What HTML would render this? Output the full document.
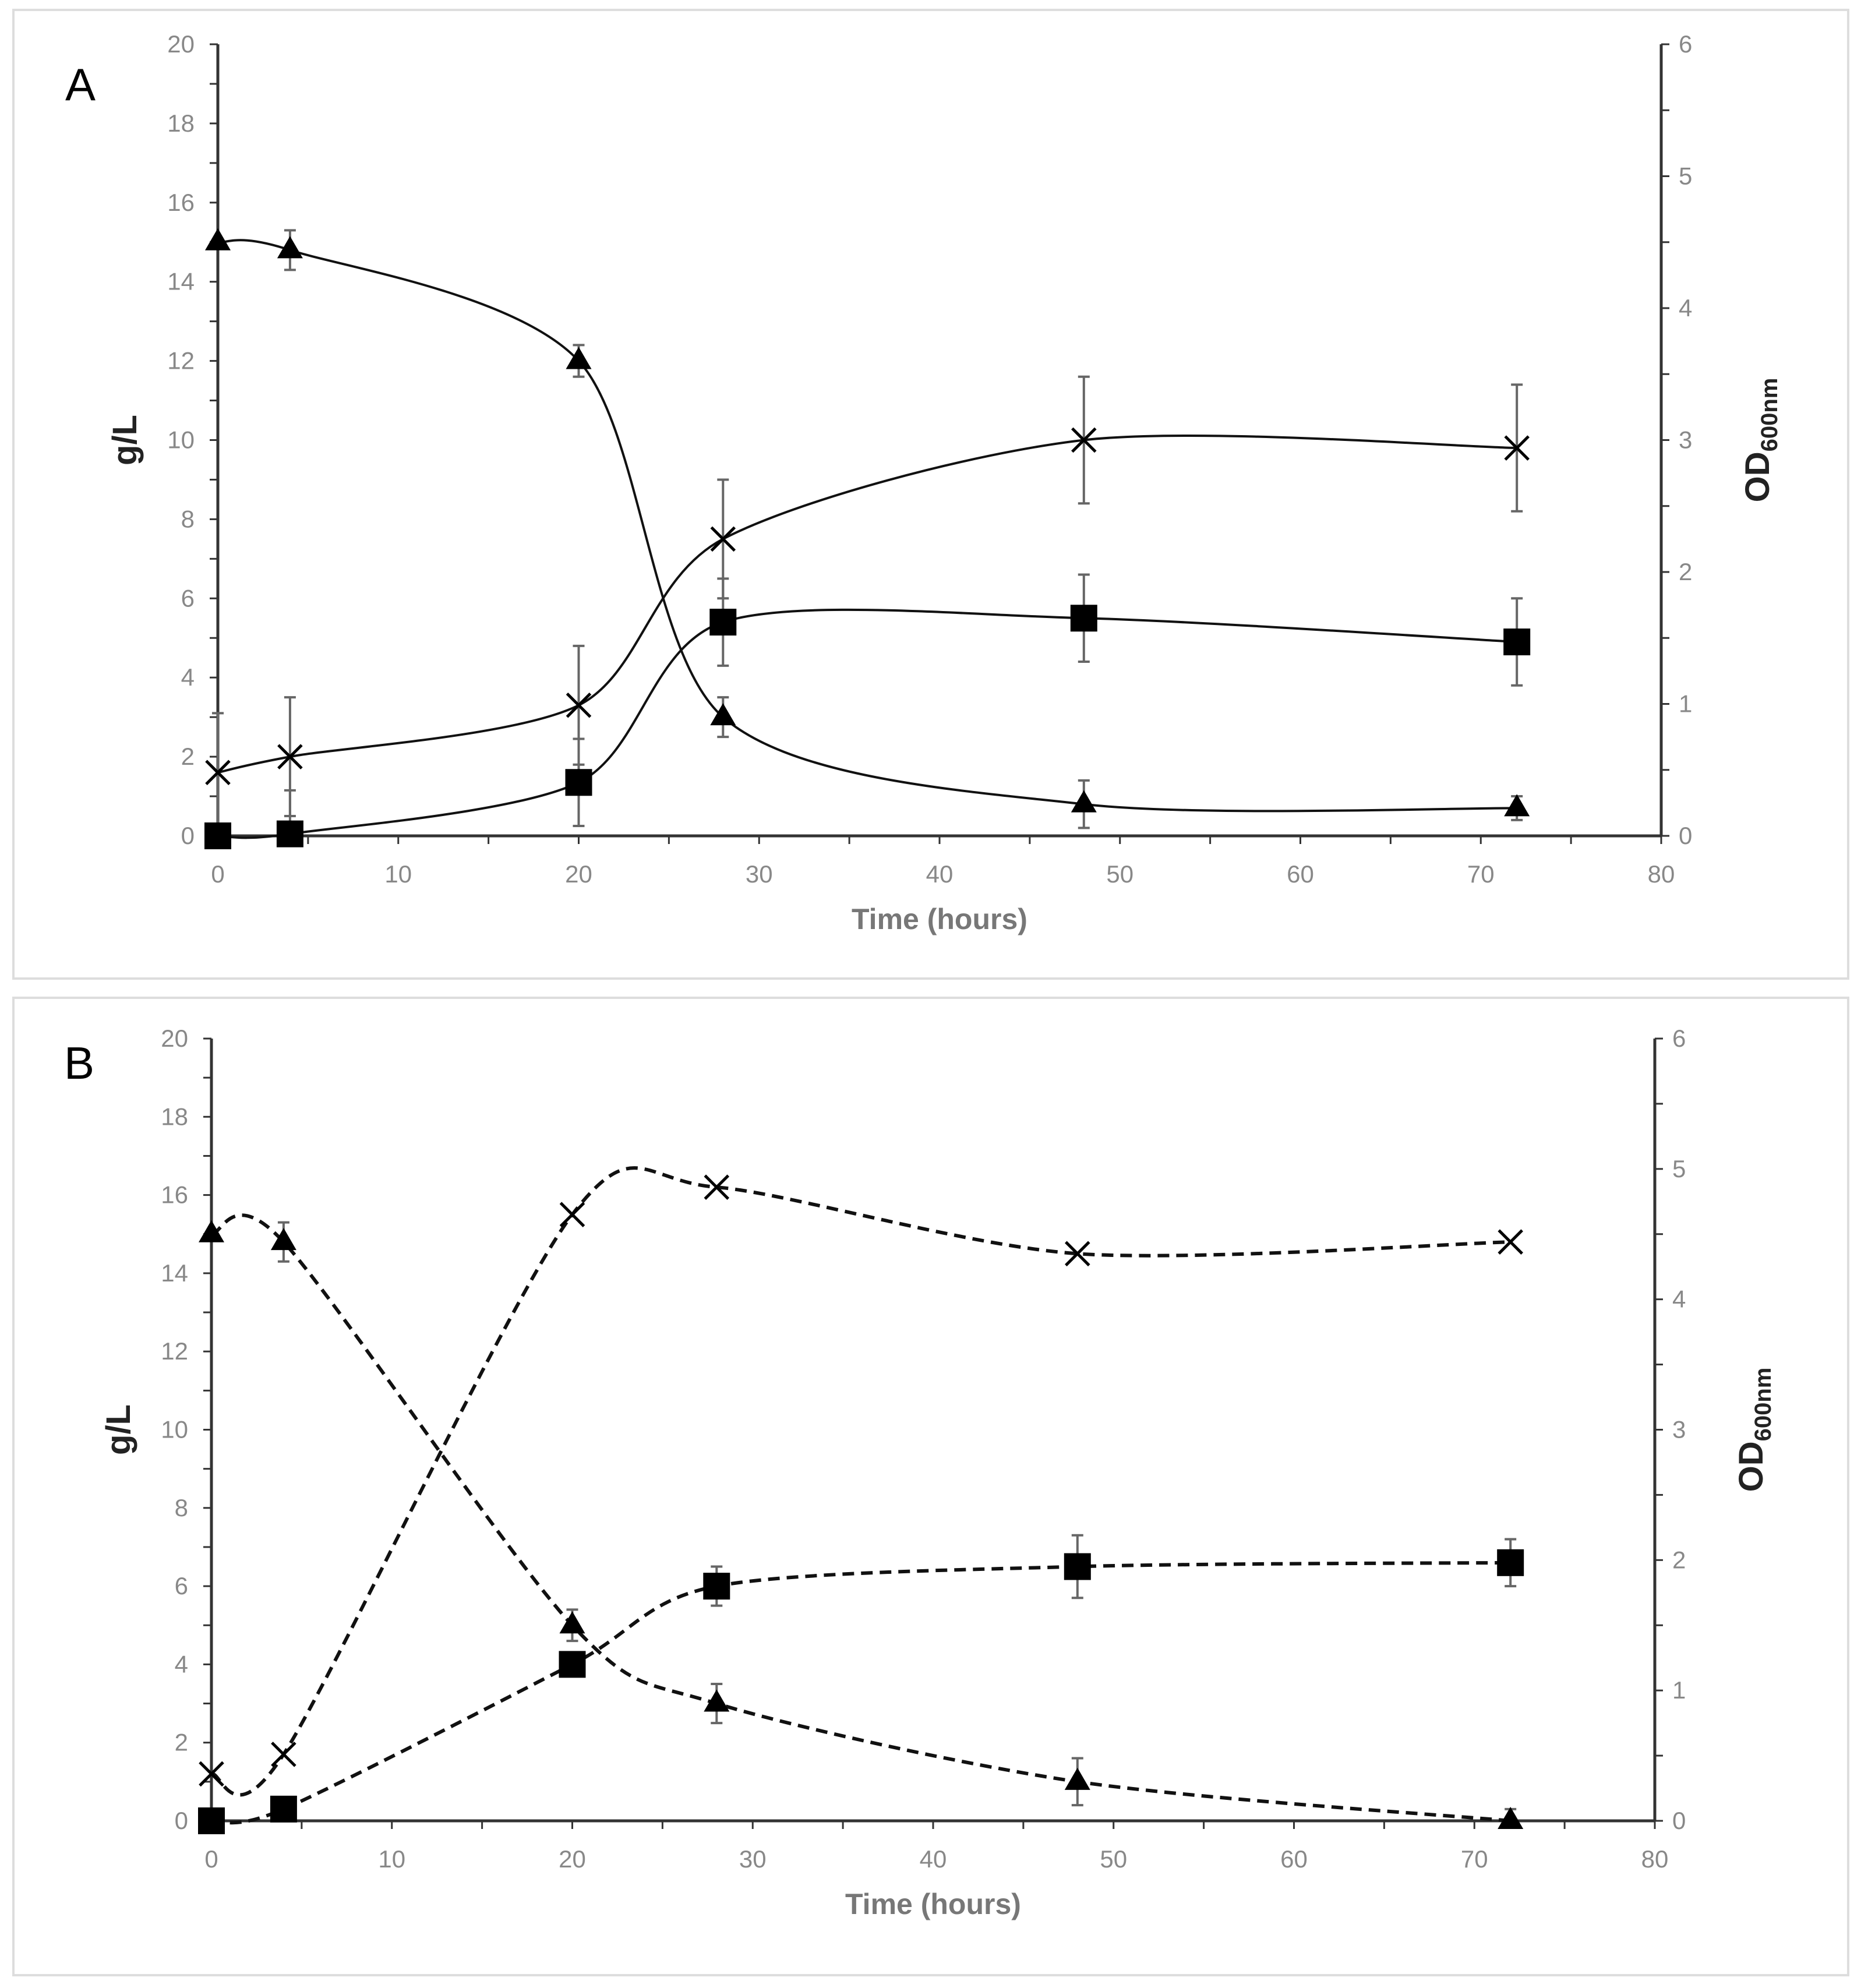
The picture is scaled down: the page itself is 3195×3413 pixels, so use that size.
<!DOCTYPE html>
<html><head><meta charset="utf-8"><style>
html,body{margin:0;padding:0;background:#fff;}
svg{display:block;}
text{font-family:"Liberation Sans",sans-serif;}
</style></head><body>
<svg id="fig" width="3195" height="3413" viewBox="0 0 3195 3413" xmlns="http://www.w3.org/2000/svg">
<rect x="0" y="0" width="3195" height="3413" fill="#fff"/>
<rect x="23" y="17" width="3150" height="1663" fill="none" stroke="#ddd" stroke-width="4"/>
<rect x="23" y="1713" width="3150" height="1678" fill="none" stroke="#ddd" stroke-width="4"/>
</svg>
<script>
const times = [0, 4, 20, 28, 48, 72];
const aTriangle = [15, 14.8, 12, 3, 0.8, 0.7];
const aTriangleErr = [0, 0.5, 0.4, 0.5, 0.6, 0.3];
const aCross = [1.6, 2.0, 3.3, 7.5, 10, 9.8];
const aCrossErr = [1.5, 1.5, 1.5, 1.5, 1.6, 1.6];
const aSquare = [0, 0.05, 1.35, 5.4, 5.5, 4.9];
const aSquareErr = [0, 1.1, 1.1, 1.1, 1.1, 1.1];
const bTriangle = [15, 14.8, 5, 3, 1, 0];
const bTriangleErr = [0, 0.5, 0.4, 0.5, 0.6, 0.3];
const bCross = [1.2, 1.7, 15.5, 16.2, 14.5, 14.8];
const bCrossErr = [0, 0, 0, 0, 0, 0];
const bSquare = [0, 0.3, 4, 6, 6.5, 6.6];
const bSquareErr = [0, 0, 0, 0.5, 0.8, 0.6];
const xTicks = [0, 10, 20, 30, 40, 50, 60, 70, 80];
const yTicks = [0, 2, 4, 6, 8, 10, 12, 14, 16, 18, 20];
const y2Ticks = [0, 1, 2, 3, 4, 5, 6];

const NS = "http://www.w3.org/2000/svg";
const svg = document.getElementById("fig");
function mk(tag, attrs, parent) {
  const e = document.createElementNS(NS, tag);
  for (const k in attrs) e.setAttribute(k, attrs[k]);
  (parent || svg).appendChild(e);
  return e;
}
function catmull(pts) {
  let d = "M" + pts[0][0] + "," + pts[0][1];
  for (let i = 0; i < pts.length - 1; i++) {
    const p0 = pts[Math.max(0, i - 1)], p1 = pts[i], p2 = pts[i + 1], p3 = pts[Math.min(pts.length - 1, i + 2)];
    const t = 7;
    const c1 = [p1[0] + (p2[0] - p0[0]) / t, p1[1] + (p2[1] - p0[1]) / t];
    const c2 = [p2[0] - (p3[0] - p1[0]) / t, p2[1] - (p3[1] - p1[1]) / t];
    d += " C" + c1[0] + "," + c1[1] + " " + c2[0] + "," + c2[1] + " " + p2[0] + "," + p2[1];
  }
  return d;
}
function panel(cfg) {
  const g = mk("g", {});
  
  
  const X = v => cfg.x0 + (cfg.x80 - cfg.x0) * v / 80;
  const Y = v => cfg.y0 - (cfg.y0 - cfg.y20) * v / 20;
  const gray = "#888";
  const ax = mk("g", {}, g);
  
  
  mk("line", {x1: X(0), y1: Y(0), x2: X(80), y2: Y(0), stroke: "#333", "stroke-width": 5}, ax);
  mk("line", {x1: X(0), y1: Y(0), x2: X(0), y2: Y(20), stroke: "#333", "stroke-width": 5}, ax);
  mk("line", {x1: X(80), y1: Y(0), x2: X(80), y2: Y(20), stroke: "#333", "stroke-width": 5}, ax);
  for (let v = 0; v <= 80; v += 5) mk("line", {x1: X(v), y1: Y(0), x2: X(v), y2: Y(0) + 14, stroke: "#333", "stroke-width": 3}, ax);
  for (let v = 0; v <= 20; v += 1) mk("line", {x1: X(0) - 14, y1: Y(v), x2: X(0), y2: Y(v), stroke: "#333", "stroke-width": 3}, ax);
  for (let v = 0; v <= 6; v += 0.5) mk("line", {x1: X(80), y1: Y(v * 20 / 6), x2: X(80) + 14, y2: Y(v * 20 / 6), stroke: "#333", "stroke-width": 3}, ax);
  xTicks.forEach(v => {
    const t = mk("text", {x: X(v), y: Y(0) + 80, "text-anchor": "middle", "font-size": 42, fill: gray}, ax);
    t.textContent = v;
    
    
  });
  yTicks.forEach(v => {
    const t = mk("text", {x: X(0) - 40, y: Y(v) + 14, "text-anchor": "end", "font-size": 42, fill: gray}, ax);
    t.textContent = v;
    
    
  });
  y2Ticks.forEach(v => {
    const t = mk("text", {x: X(80) + 30, y: Y(v * 20 / 6) + 14, "text-anchor": "start", "font-size": 42, fill: gray}, ax);
    t.textContent = v;
    
    
  });
  const xt = mk("text", {x: (X(0) + X(80)) / 2, y: Y(0) + 160, "text-anchor": "middle", "font-size": 50, "font-weight": "bold", fill: "#777"}, g);
  xt.textContent = "Time (hours)";
  
  
  const yt = mk("text", {transform: "translate(" + (X(0) - 140) + "," + Y(10) + ") rotate(-90)", "text-anchor": "middle", "font-size": 58, "font-weight": "bold", fill: "#222"}, g);
  yt.textContent = "g/L";
  
  
  const y2t = mk("text", {transform: "translate(" + (X(80) + 185) + "," + Y(10) + ") rotate(-90)", "text-anchor": "middle", "font-size": 58, "font-weight": "bold", fill: "#222"}, g);
  y2t.innerHTML = 'OD<tspan font-size="40" dy="14">600nm</tspan>';
  
  
  const lab = mk("text", {x: cfg.labX, y: cfg.labY, "font-size": 78, "font-family": "Liberation Serif, serif", fill: "#000"}, g);
  lab.textContent = cfg.letter;
  
  
  const dash = cfg.dashed ? "20,12" : "none";
  cfg.series.forEach(s => {
    const sg = mk("g", {}, g);
    
    
    const pts = times.map((t, i) => [X(t), Y(s.vals[i])]);
    mk("path", {d: catmull(pts), fill: "none", stroke: "#111", "stroke-width": cfg.dashed ? 6 : 4, "stroke-dasharray": dash}, sg);
    times.forEach((t, i) => {
      const e = s.err[i];
      if (e > 0) {
        const lo = Math.max(0, s.vals[i] - e), hi = s.vals[i] + e;
        const eb = mk("g", {stroke: "#666", "stroke-width": 4}, sg);
        
        
        mk("line", {x1: X(t), y1: Y(lo), x2: X(t), y2: Y(hi)}, eb);
        if (lo > 0) mk("line", {x1: X(t) - 10, y1: Y(lo), x2: X(t) + 10, y2: Y(lo)}, eb);
        mk("line", {x1: X(t) - 10, y1: Y(hi), x2: X(t) + 10, y2: Y(hi)}, eb);
      }
      const cx = X(t), cy = Y(s.vals[i]);
      let m;
      if (s.marker === "tri") m = mk("polygon", {points: (cx) + "," + (cy - 24) + " " + (cx - 22) + "," + (cy + 14) + " " + (cx + 22) + "," + (cy + 14), fill: "#000"}, sg);
      else if (s.marker === "sq") m = mk("rect", {x: cx - 23, y: cy - 23, width: 46, height: 46, fill: "#000"}, sg);
      else {
        m = mk("path", {d: "M" + (cx - 20) + "," + (cy - 20) + "L" + (cx + 20) + "," + (cy + 20) + "M" + (cx + 20) + "," + (cy - 20) + "L" + (cx - 20) + "," + (cy + 20), stroke: "#000", "stroke-width": 5, fill: "none"}, sg);
      }
      
      
    });
  });
}
panel({name: "panel-a", letter: "A", x0: 374, x80: 2852, y0: 1435, y20: 76, labX: 112, labY: 172, dashed: false,
  series: [
    {name: "series-triangle", vals: aTriangle, err: aTriangleErr, marker: "tri"},
    {name: "series-cross", vals: aCross, err: aCrossErr, marker: "x"},
    {name: "series-square", vals: aSquare, err: aSquareErr, marker: "sq"}
  ]});
panel({name: "panel-b", letter: "B", x0: 363, x80: 2841, y0: 3126, y20: 1783, labX: 110, labY: 1852, dashed: true,
  series: [
    {name: "series-triangle", vals: bTriangle, err: bTriangleErr, marker: "tri"},
    {name: "series-cross", vals: bCross, err: bCrossErr, marker: "x"},
    {name: "series-square", vals: bSquare, err: bSquareErr, marker: "sq"}
  ]});
</script>
</body></html>
